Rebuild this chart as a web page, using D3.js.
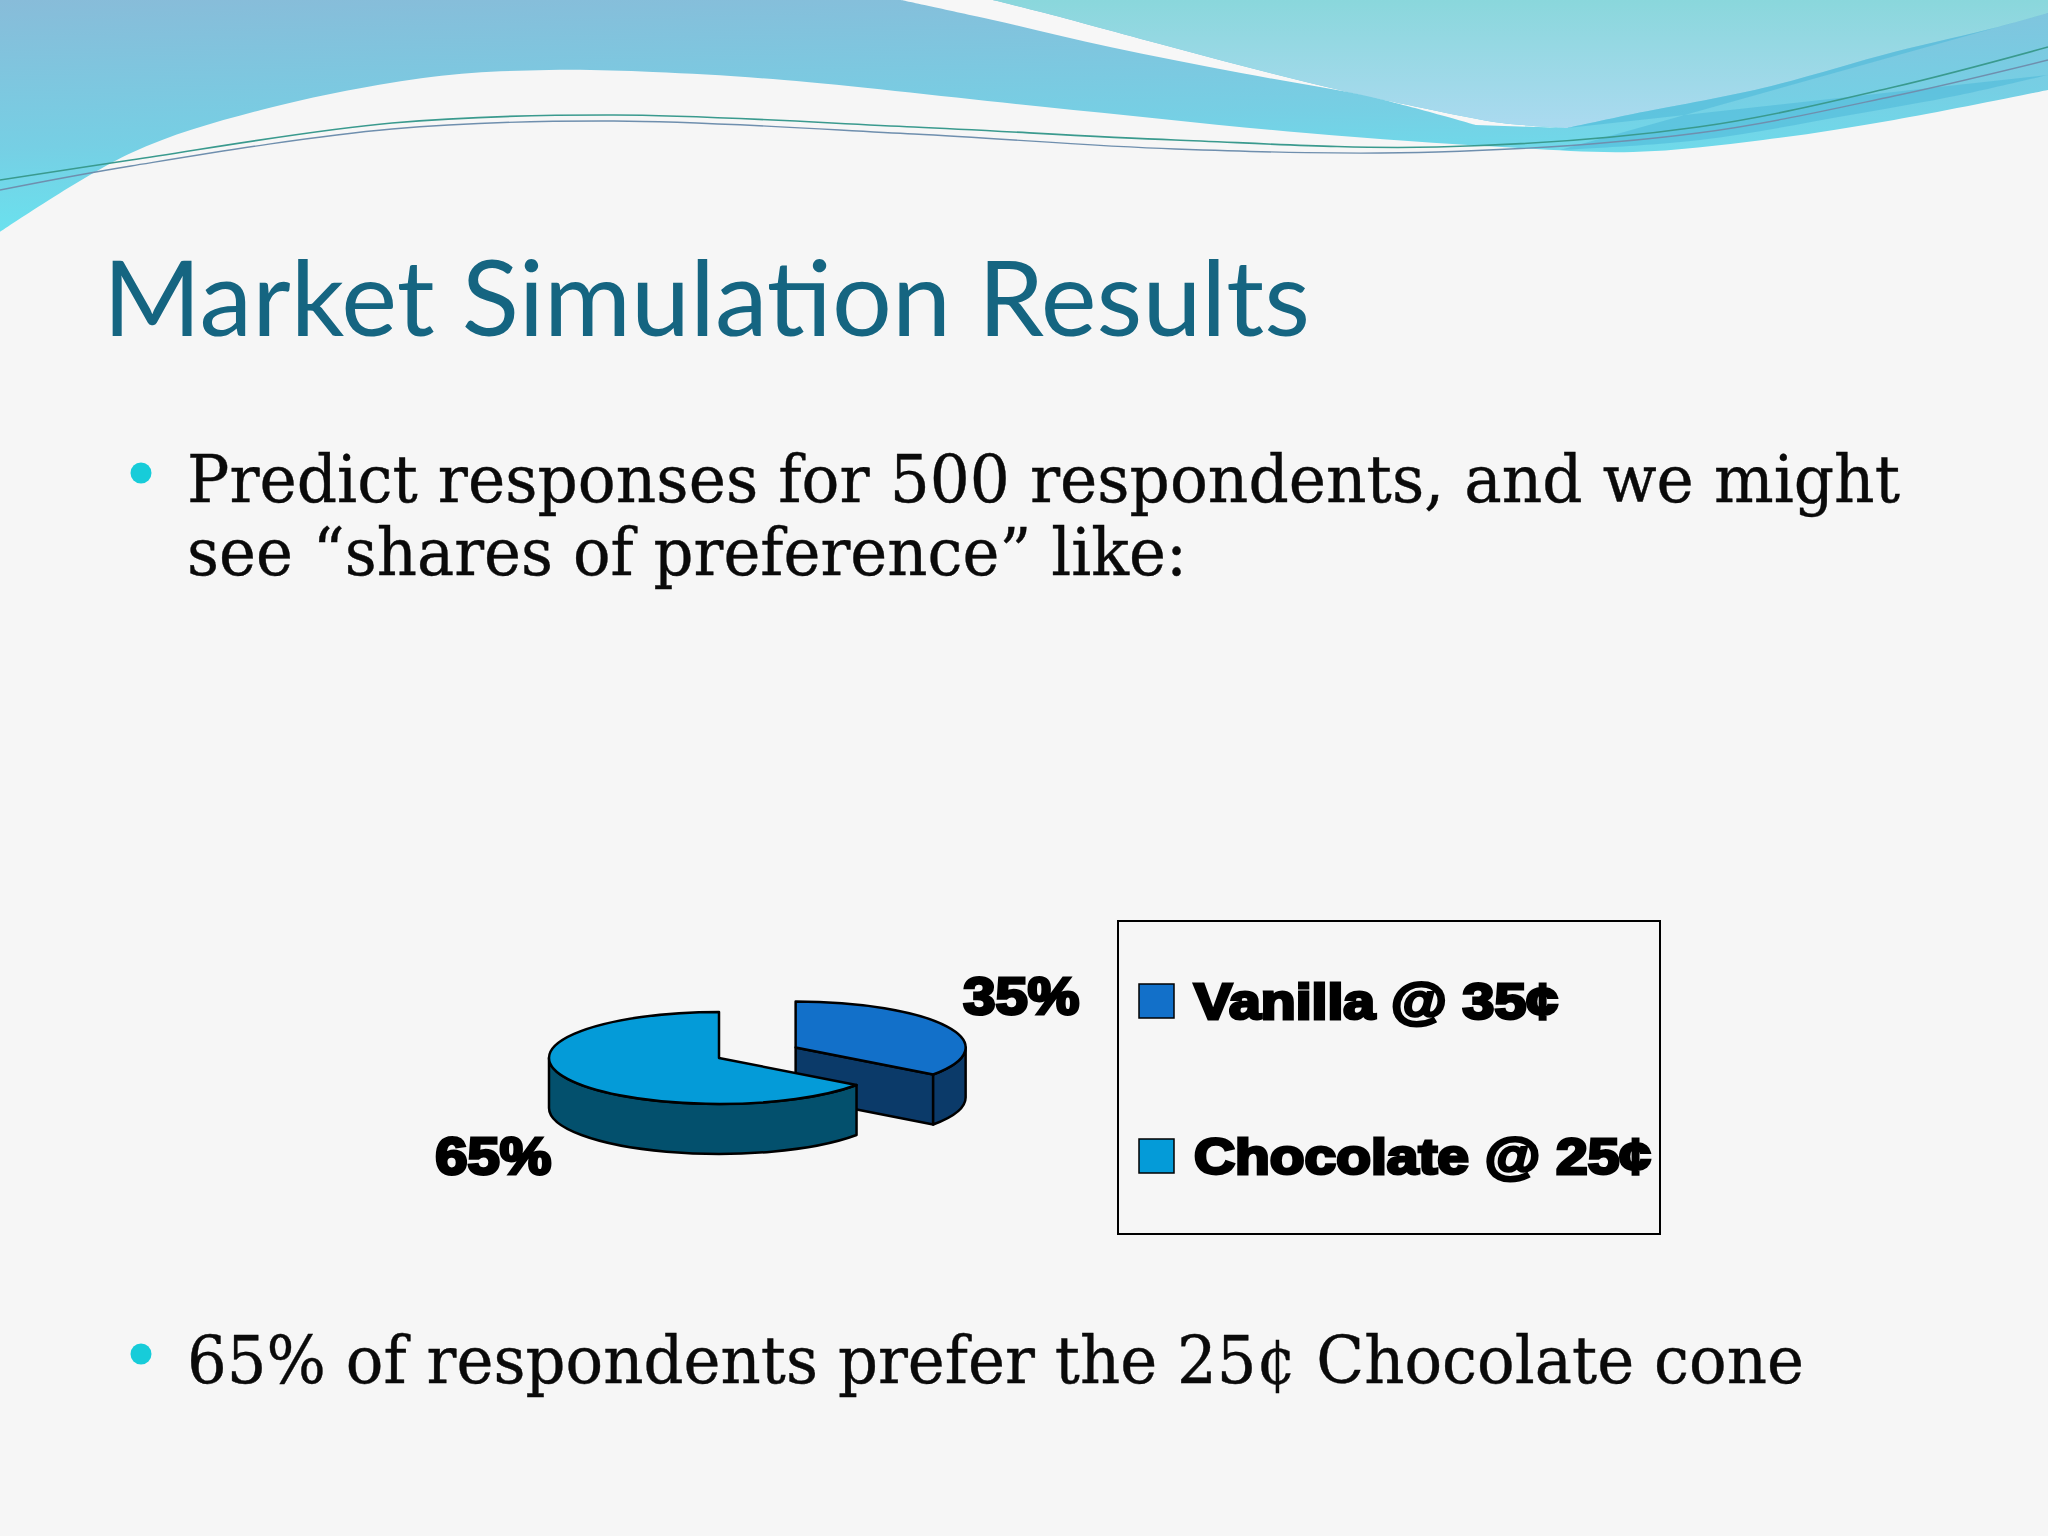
<!DOCTYPE html>
<html><head><meta charset="utf-8">
<script src="https://cdn.jsdelivr.net/npm/d3@7"></script>
<style>html,body{margin:0;padding:0;background:#f6f6f6;}svg{display:block;}</style>
</head><body>
<script>
// ---- data ----
const categories = ["Vanilla @ 35¢", "Chocolate @ 25¢"];
const shares = [35, 65];
const shareLabels = ["35%", "65%"];
const exploded = [true, false];
const topColors = ["#1270c9", "#049bd8"];
const sideColors = ["#0b3a69", "#03506d"];
const titleText = "Market Simulation Results";
const bulletLines = [
  ["Predict responses for 500 respondents, and we might", "see “shares of preference” like:"],
  ["65% of respondents prefer the 25¢ Chocolate cone"]
];

const W = 2048, H = 1536;
const svg = d3.select("body").append("svg").attr("width", W).attr("height", H);
const defs = svg.append("defs");
svg.append("rect").attr("width", W).attr("height", H).attr("fill", "#f6f6f6");

// ---- decorative header ----
const gA = defs.append("linearGradient").attr("id", "gA").attr("x1", 0).attr("y1", 0).attr("x2", 0.25).attr("y2", 1);
gA.append("stop").attr("offset", 0).attr("stop-color", "#88bcd9");
gA.append("stop").attr("offset", 0.6).attr("stop-color", "#76cfe4");
gA.append("stop").attr("offset", 1).attr("stop-color", "#68e4f0");
const gB = defs.append("linearGradient").attr("id", "gB").attr("x1", 0).attr("y1", 0).attr("x2", 0).attr("y2", 1);
gB.append("stop").attr("offset", 0).attr("stop-color", "#8ad7dc");
gB.append("stop").attr("offset", 1).attr("stop-color", "#abdaf0");

const curve = d3.line().curve(d3.curveCatmullRom.alpha(0.5));
const boundary = [[2048,90],[1894,120],[1763,140],[1633,152],[1502,147],[1306,133],[1045,107],[784,80],[653,72],[549,70],[431,77],[261,110],[131,153],[0,232]];
svg.append("path").attr("d", "M0,0L2048,0" + curve(boundary).replace(/^M/, "L") + "Z").attr("fill", "url(#gA)");
// white stripe
const stripeL = [[901,0],[993,20],[1110,47],[1241,73],[1371,97],[1476,125]];
const bLeft = [[1567,128],[1502,123],[1437,111],[1306,82],[1175,48],[1045,13],[993,0]];
svg.append("path").attr("d", curve(stripeL) + curve(bLeft).replace(/^M/, "L") + "Z").attr("fill", "#f7f7f7");
// light region
const streakTop = [[2048,13],[1998,27],[1894,52],[1763,88],[1633,114],[1567,128]];
svg.append("path").attr("d", "M993,0L2048,0" + curve(streakTop).replace(/^M/, "L") + curve(bLeft).replace(/^M/, "L") + "Z").attr("fill", "url(#gB)");
// darker streak
const streakBottom = [[1560,150],[1700,140],[1850,115],[1960,95],[2048,75]];
svg.append("path").attr("d", curve(streakTop) + curve(streakBottom.slice().reverse()).replace(/^M/, "L") + "Z")
  .attr("fill", "#4db8d8").attr("opacity", 0.55);
// thin lines
const line1 = [[0,180],[131,160],[392,123],[614,115],[914,127],[1175,140],[1437,147],[1698,127],[1894,87],[2048,47]];
const line2 = [[0,190],[131,166],[392,129],[614,121],[914,134],[1175,149],[1437,152],[1698,133],[1894,96],[2048,60]];
svg.append("path").attr("d", curve(line1)).attr("fill", "none").attr("stroke", "#3a9a8e").attr("stroke-width", 1.6);
svg.append("path").attr("d", curve(line2)).attr("fill", "none").attr("stroke", "#6f8fae").attr("stroke-width", 1.4);

// ---- title ----
svg.append("text").attr("x", 103).attr("y", 336)
  .attr("font-family", "Lato, 'Open Sans', sans-serif").attr("font-size", 105)
  .attr("fill", "#156581").attr("textLength", 1207).attr("lengthAdjust", "spacingAndGlyphs")
  .text(titleText);

// ---- bullets ----
const bulletY = [502, 1383];
const lineLens = [[1713, 1000], [1617]];
bulletLines.forEach((lines, i) => {
  svg.append("circle").attr("cx", 141).attr("cy", bulletY[i] - 29).attr("r", 10.5).attr("fill", "#17ccd9");
  lines.forEach((t, j) => {
    svg.append("text").attr("x", 187).attr("y", bulletY[i] + j * 73)
      .attr("font-family", "'DejaVu Serif', serif").attr("font-size", 66).attr("fill", "#0a0a0a")
      .attr("stroke", "#0a0a0a").attr("stroke-width", 0.4)
      .attr("textLength", lineLens[i][j]).attr("lengthAdjust", "spacingAndGlyphs")
      .text(t);
  });
});

// ---- 3D pie ----
const cx = 719, cy = 1058, rx = 170, ry = 46, depth = 50, explodeR = 86;
const arcs = d3.pie().sort(null).startAngle(0).endAngle(2 * Math.PI)(shares);
const color = d3.scaleOrdinal().domain(categories).range(topColors);
const side = d3.scaleOrdinal().domain(categories).range(sideColors);
const pieG = svg.append("g").attr("stroke", "#000").attr("stroke-width", 2.5).attr("stroke-linejoin", "round");

function P(c, a, dy = 0) { return [c[0] + rx * Math.sin(a), c[1] - ry * Math.cos(a) + dy]; }
function centerOf(d, i) {
  const mid = (d.startAngle + d.endAngle) / 2;
  const e = exploded[i] ? explodeR : 0;
  return [cx + e * Math.sin(mid), cy - e * Math.cos(mid) * ry / rx];
}
function slicePaths(d, i) {
  const c = centerOf(d, i), a0 = d.startAngle, a1 = d.endAngle;
  const out = [];
  if (Math.sin(a1) > 0.01) {
    const p = P(c, a1), q = P(c, a1, depth);
    out.push({ d: `M${c}L${p}L${q}L${c[0]},${c[1] + depth}Z`, fill: side(categories[i]) });
  }
  if (-Math.sin(a0) > 0.01) {
    const p = P(c, a0), q = P(c, a0, depth);
    out.push({ d: `M${c}L${p}L${q}L${c[0]},${c[1] + depth}Z`, fill: side(categories[i]) });
  }
  const b0 = Math.max(a0, Math.PI / 2), b1 = Math.min(a1, 3 * Math.PI / 2);
  if (b1 > b0) {
    const p0 = P(c, b0), p1 = P(c, b1), q1 = P(c, b1, depth), q0 = P(c, b0, depth);
    const lg = (b1 - b0) > Math.PI ? 1 : 0;
    out.push({ d: `M${p0}A${rx},${ry} 0 ${lg} 1 ${p1}L${q1}A${rx},${ry} 0 ${lg} 0 ${q0}Z`, fill: side(categories[i]) });
  }
  const s = P(c, a0), e = P(c, a1);
  const lg = (a1 - a0) > Math.PI ? 1 : 0;
  out.push({ d: `M${c}L${s}A${rx},${ry} 0 ${lg} 1 ${e}Z`, fill: color(categories[i]) });
  return out;
}
const order = arcs.map((d, i) => i).sort((a, b) => (exploded[b] ? 1 : 0) - (exploded[a] ? 1 : 0));
order.forEach(i => {
  pieG.selectAll(null).data(slicePaths(arcs[i], i)).enter().append("path")
    .attr("d", p => p.d).attr("fill", p => p.fill);
});

// data labels
arcs.forEach((d, i) => {
  const c = centerOf(d, i);
  const mid = (d.startAngle + d.endAngle) / 2;
  const x = c[0] + 1.49 * rx * Math.sin(mid);
  const y = c[1] - 165 * Math.cos(mid) + 41;
  svg.append("text").attr("x", x).attr("y", y).attr("text-anchor", "middle")
    .attr("font-family", "'Liberation Sans', Arial, sans-serif").attr("font-weight", "bold")
    .attr("font-size", 51).attr("fill", "#000").attr("stroke", "#000").attr("stroke-width", 3)
    .attr("textLength", 116).attr("lengthAdjust", "spacingAndGlyphs")
    .text(shareLabels[i]);
});

// ---- legend ----
const lg = svg.append("g");
lg.append("rect").attr("x", 1118).attr("y", 921).attr("width", 542).attr("height", 313)
  .attr("fill", "none").attr("stroke", "#000").attr("stroke-width", 2);
const ly = d3.scalePoint().domain(categories).range([1001, 1156]);
const legendLens = [364, 457];
categories.forEach((cat, i) => {
  lg.append("rect").attr("x", 1139).attr("y", ly(cat) - 17).attr("width", 35).attr("height", 34)
    .attr("fill", color(cat)).attr("stroke", "#000").attr("stroke-width", 1.5);
  lg.append("text").attr("x", 1194).attr("y", ly(cat) + 18)
    .attr("font-family", "'Liberation Sans', Arial, sans-serif").attr("font-weight", "bold")
    .attr("font-size", 50).attr("fill", "#000").attr("stroke", "#000").attr("stroke-width", 3)
    .attr("textLength", legendLens[i]).attr("lengthAdjust", "spacingAndGlyphs")
    .text(cat);
});
</script>
</body></html>
